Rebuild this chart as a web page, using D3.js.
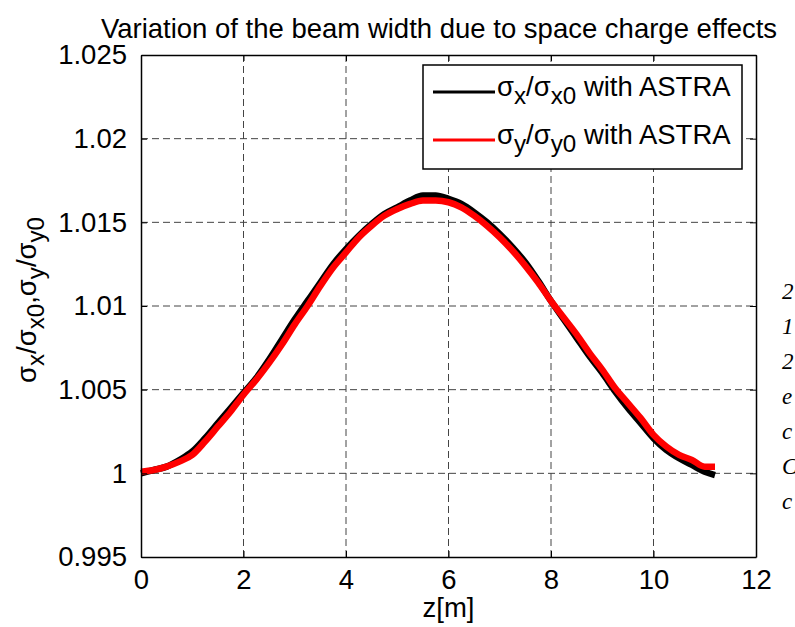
<!DOCTYPE html>
<html>
<head>
<meta charset="utf-8">
<script src="https://cdn.jsdelivr.net/npm/d3@7"></script>
<style>
  body { margin: 0; background: #fff; }
  svg { display: block; font-family: Arial, "Liberation Sans", sans-serif; }
</style>
</head>
<body>
<div id="chart"></div>
<script>
// positions along the beamline [m]
const zValues = [0, 0.25, 0.5, 0.75, 1, 1.25, 1.5, 1.75, 2, 2.25, 2.5, 2.75, 3, 3.25, 3.5, 3.75,
    4, 4.25, 4.5, 4.75, 5, 5.25, 5.5, 5.75, 6, 6.25, 6.5, 6.75, 7, 7.25, 7.5, 7.75,
    8, 8.25, 8.5, 8.75, 9, 9.25, 9.5, 9.75, 10, 10.25, 10.5, 10.75, 11, 11.2]

// sigma_x / sigma_x0 (ASTRA)
const sigmaX = [1.0000, 1.0002, 1.0004, 1.0008, 1.0013, 1.0021, 1.0030, 1.0039, 1.0048, 1.0057,
    1.0068, 1.0080, 1.0092, 1.0103, 1.0114, 1.0125, 1.0134, 1.0142, 1.0149, 1.0155,
    1.0159, 1.0163, 1.0166, 1.0166, 1.0164, 1.0161, 1.0156, 1.0150, 1.0143, 1.0135,
    1.0126, 1.0115, 1.0103, 1.0092, 1.0081, 1.0070, 1.0060, 1.0049, 1.0039, 1.0030,
    1.0021, 1.0014, 1.0009, 1.0005, 1.0001, 0.9999]

// sigma_y / sigma_y0 (ASTRA)
const sigmaY = [1.0001, 1.0002, 1.0004, 1.0007, 1.0011, 1.0019, 1.0028, 1.0037, 1.0047, 1.0056,
    1.0066, 1.0077, 1.0089, 1.0100, 1.0112, 1.0123, 1.0132, 1.0141, 1.0148, 1.0154,
    1.0158, 1.0161, 1.0163, 1.0163, 1.0162, 1.0159, 1.0154, 1.0148, 1.0141, 1.0133,
    1.0124, 1.0114, 1.0103, 1.0093, 1.0083, 1.0072, 1.0062, 1.0051, 1.0042, 1.0033,
    1.0023, 1.0016, 1.0011, 1.0008, 1.0004, 1.0004]

const xTicks = [0, 2, 4, 6, 8, 10, 12]
const yTicks = [0.995, 1, 1.005, 1.01, 1.015, 1.02, 1.025]
const yTickLabels = ["0.995", "1", "1.005", "1.01", "1.015", "1.02", "1.025"]

const titleText = "Variation of the beam width due to space charge effects"
// [text, isSubscript]
const yLabelParts = [["σ", 0], ["x", 1], ["/σ", 0], ["x0", 1], [",σ", 0], ["y", 1], ["/σ", 0], ["y0", 1]]
const xLabelText = "z[m]"
const seriesNames = [
    [["σ", 0], ["x", 1], ["/σ", 0], ["x0", 1], [" with ASTRA", 0]],
    [["σ", 0], ["y", 1], ["/σ", 0], ["y0", 1], [" with ASTRA", 0]]
]
const seriesColors = ["#000000", "#ff0000"]
// clipped text of the neighbouring page column
const sideChars = ["2", "1", "2", "e", "c", "C", "c"]

const width = 795
const height = 627
const plot = {left: 141, right: 756, top: 55, bottom: 557}
const fontSize = 27.5

const svg = d3.select("#chart").append("svg")
    .attr("width", width)
    .attr("height", height)

const x = d3.scaleLinear().domain([0, 12]).range([plot.left, plot.right])
const y = d3.scaleLinear().domain([0.995, 1.025]).range([plot.bottom, plot.top])

function addParts(textSel, parts, size) {
    const shift = size * 0.3
    let down = false
    parts.forEach(p => {
        const t = textSel.append("tspan").text(p[0])
        if (p[1] && !down) {
            t.attr("dy", shift).style("font-size", (size * 0.88) + "px")
            down = true
        } else if (p[1]) {
            t.style("font-size", (size * 0.88) + "px")
        } else if (down) {
            t.attr("dy", -shift)
            down = false
        }
    })
}

// grid
const grid = svg.append("g")
    .attr("stroke", "#444")
    .attr("stroke-width", 1)
    .attr("stroke-dasharray", "7,4")
grid.selectAll(".gx")
    .data(xTicks.slice(1, -1))
    .join("line")
    .attr("x1", d => x(d)).attr("x2", d => x(d))
    .attr("y1", plot.top).attr("y2", plot.bottom)
grid.selectAll(".gy")
    .data(yTicks.slice(1, -1))
    .join("line")
    .attr("y1", d => y(d)).attr("y2", d => y(d))
    .attr("x1", plot.left).attr("x2", plot.right)

// data lines
const line = d3.line()
    .x(d => x(d[0]))
    .y(d => y(d[1]))
    .curve(d3.curveMonotoneX);

[sigmaX, sigmaY].forEach((s, i) => {
    svg.append("path")
        .datum(zValues.map((z, j) => [z, s[j]]))
        .attr("fill", "none")
        .attr("stroke", seriesColors[i])
        .attr("stroke-width", 6.5)
        .attr("stroke-linejoin", "round")
        .attr("d", line)
})

// axes (MATLAB style: ticks inside)
const axB = d3.axisBottom(x).tickValues(xTicks).tickSizeInner(-6).tickSizeOuter(0).tickPadding(12)
const axL = d3.axisLeft(y).tickValues(yTicks).tickFormat((d, i) => yTickLabels[i])
    .tickSizeInner(-6).tickSizeOuter(0).tickPadding(14)
const axT = d3.axisTop(x).tickValues(xTicks).tickSizeInner(-6).tickSizeOuter(0).tickFormat("")
const axR = d3.axisRight(y).tickValues(yTicks).tickSizeInner(-6).tickSizeOuter(0).tickFormat("")

svg.append("g").attr("transform", `translate(0,${plot.bottom})`).call(axB)
svg.append("g").attr("transform", `translate(${plot.left},0)`).call(axL)
svg.append("g").attr("transform", `translate(0,${plot.top})`).call(axT)
svg.append("g").attr("transform", `translate(${plot.right},0)`).call(axR)

svg.selectAll(".domain").attr("stroke", "#000").attr("stroke-width", 1.5)
svg.selectAll(".tick line").attr("stroke", "#000")
svg.selectAll(".tick text")
    .attr("fill", "#000")
    .style("font-size", fontSize + "px")
    .style("font-family", "Arial, 'Liberation Sans', sans-serif")

// title
svg.append("text")
    .attr("x", 439)
    .attr("y", 38)
    .attr("text-anchor", "middle")
    .style("font-size", fontSize + "px")
    .text(titleText)

// x label
svg.append("text")
    .attr("x", (plot.left + plot.right) / 2)
    .attr("y", 617)
    .attr("text-anchor", "middle")
    .style("font-size", fontSize + "px")
    .text(xLabelText)

// y label
const yLab = svg.append("text")
    .attr("transform", `translate(36,300) rotate(-90)`)
    .attr("text-anchor", "middle")
    .style("font-size", fontSize + "px")
addParts(yLab, yLabelParts, fontSize)

// legend
const leg = svg.append("g")
leg.append("rect")
    .attr("x", 423).attr("y", 65)
    .attr("width", 319).attr("height", 104)
    .attr("fill", "#fff")
    .attr("stroke", "#000")
    .attr("stroke-width", 1.5)
seriesNames.forEach((parts, i) => {
    const ly = 92 + i * 48
    leg.append("line")
        .attr("x1", 433).attr("x2", 495)
        .attr("y1", ly).attr("y2", ly)
        .attr("stroke", seriesColors[i])
        .attr("stroke-width", 3)
    const t = leg.append("text")
        .attr("x", 497)
        .attr("y", ly + 4)
        .style("font-size", fontSize + "px")
    addParts(t, parts, fontSize)
})

// cut-off characters at right edge
svg.append("g")
    .selectAll("text")
    .data(sideChars)
    .join("text")
    .attr("x", 782)
    .attr("y", (d, i) => 299 + i * 35)
    .style("font-family", "'Liberation Serif', 'Times New Roman', serif")
    .style("font-style", "italic")
    .style("font-size", "23px")
    .text(d => d)
</script>
</body>
</html>
